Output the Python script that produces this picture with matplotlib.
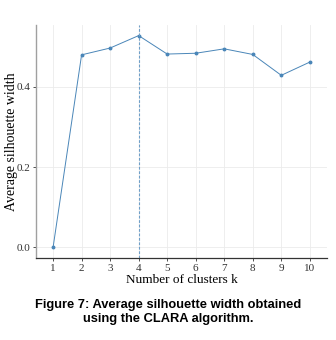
import matplotlib.pyplot as plt

k = [1, 2, 3, 4, 5, 6, 7, 8, 9, 10]
sil_width = [0.0, 0.480, 0.497, 0.528, 0.482, 0.484, 0.495, 0.481, 0.429, 0.462]
best_k = 4
y_ticks = [0.0, 0.2, 0.4]

plt.rcParams['font.family'] = ['Liberation Serif', 'DejaVu Serif']

fig = plt.figure(figsize=(3.36, 3.4), dpi=100)
ax = fig.add_axes([0.107, 0.241, 0.866, 0.685])

ax.plot(k, sil_width, color='#4a86b8', lw=0.7, marker='o', ms=1.8)
ax.axvline(best_k, color='#6f9fc8', lw=0.8, ls=(0, (2.5, 1.5)))

ax.set_xlim(0.4, 10.6)
ax.set_ylim(-0.0264, 0.554)
ax.set_xticks(k)
ax.set_yticks(y_ticks)
ax.set_yticklabels([f'{v:.1f}' for v in y_ticks])
ax.grid(True, color='#ebebeb', lw=0.6)
ax.set_axisbelow(True)

for s in ['top', 'right']:
    ax.spines[s].set_visible(False)
ax.spines['left'].set_color('#a0a0a0')
ax.spines['left'].set_linewidth(1.0)
ax.spines['bottom'].set_color('#333333')
ax.spines['bottom'].set_linewidth(0.9)
ax.tick_params(labelsize=8, length=2, width=0.6, colors='#333333', pad=2)

ax.set_xlabel('Number of clusters k', fontsize=9.5, labelpad=1)
ax.set_ylabel('Average silhouette width', fontsize=10)
ax.yaxis.set_label_coords(-0.062, 0.5)

fig.text(0.5, 0.082, 'Figure 7: Average silhouette width obtained\nusing the CLARA algorithm.',
         ha='center', va='center', fontsize=9.3, fontweight='bold',
         family=['Liberation Sans', 'DejaVu Sans'], linespacing=1.3)

fig.savefig('out.png', dpi=100)
